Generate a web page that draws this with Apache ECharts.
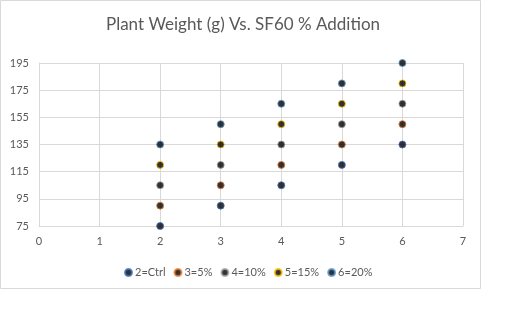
<!DOCTYPE html>
<html>
<head>
<meta charset="utf-8">
<script src="https://cdn.jsdelivr.net/npm/echarts@6/dist/echarts.min.js"></script>
<style>
  html, body { margin: 0; padding: 0; background: #fff; }
  #chart { width: 507px; height: 326px; }
</style>
</head>
<body>
<div id="chart"></div>
<script>
// Plant weight (g) for each SF60 addition level, by group position on the x axis
const titleText = 'Plant Weight (g) Vs. SF60 % Addition';
const groups = [2, 3, 4, 5, 6];
const seriesNames = ['2=Ctrl', '3=5%', '4=10%', '5=15%', '6=20%'];
const ctrlValues = [75, 90, 105, 120, 135];
const pct5Values = [90, 105, 120, 135, 150];
const pct10Values = [105, 120, 135, 150, 165];
const pct15Values = [120, 135, 150, 165, 180];
const pct20Values = [135, 150, 165, 180, 195];
const yTicks = [75, 95, 115, 135, 155, 175, 195];

const borderColors = ['#4472C4', '#ED7D31', '#A5A5A5', '#FFC000', '#5B9BD5'];
const valueSets = [ctrlValues, pct5Values, pct10Values, pct15Values, pct20Values];

const font = 'Lato, "Open Sans", sans-serif';
const textColor = '#595959';

const chart = echarts.init(document.getElementById('chart'), null, { renderer: 'canvas' });

const series = seriesNames.map((name, i) => ({
  name: name,
  type: 'scatter',
  symbol: 'circle',
  symbolSize: 7,
  itemStyle: { color: '#000', borderColor: borderColors[i], borderWidth: 1 },
  emphasis: { disabled: true },
  data: groups.map((g, k) => [g, valueSets[i][k]])
}));

chart.setOption({
  animation: false,
  backgroundColor: '#fff',
  title: {
    text: titleText,
    left: 238,
    textAlign: 'center',
    top: 11,
    textStyle: { fontFamily: font, fontSize: 17, fontWeight: 'normal', color: textColor }
  },
  graphic: [{
    type: 'rect',
    shape: { x: 0.5, y: 0.5, width: 480, height: 288 },
    style: { fill: null, stroke: '#d9d9d9', lineWidth: 1 },
    silent: true
  }],
  legend: {
    data: seriesNames,
    left: 119,
    top: 262,
    icon: 'circle',
    itemWidth: 7,
    itemHeight: 7,
    itemGap: 8,
    textStyle: { fontFamily: font, fontSize: 11, color: textColor, padding: [0, 0, 0, -2] }
  },
  grid: { left: 39, right: 44, top: 63, bottom: 100, containLabel: false },
  xAxis: {
    type: 'value',
    min: 0,
    max: 7,
    interval: 1,
    axisLine: { show: true, lineStyle: { color: '#d9d9d9' } },
    axisTick: { show: false },
    splitLine: { show: true, lineStyle: { color: '#d9d9d9' } },
    axisLabel: { fontFamily: font, fontSize: 11, color: textColor, margin: 10 }
  },
  yAxis: {
    type: 'value',
    min: 75,
    max: 195,
    axisLine: { show: true, lineStyle: { color: '#d9d9d9' } },
    axisTick: { show: false, customValues: yTicks },
    splitLine: { show: true, lineStyle: { color: '#d9d9d9' } },
    axisLabel: { fontFamily: font, fontSize: 11, color: textColor, margin: 10, customValues: yTicks }
  },
  series: series
});
</script>
</body>
</html>
